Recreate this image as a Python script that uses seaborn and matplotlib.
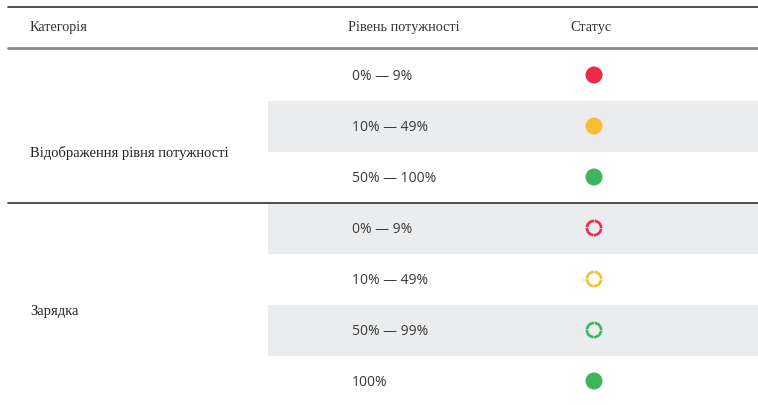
import matplotlib
matplotlib.use("Agg")
import matplotlib.pyplot as plt
import pandas as pd
import seaborn as sns

# -------------------------------
# Data
# -------------------------------
headers = ["Категорія", "Рівень потужності", "Статус"]
categories = ["Відображення рівня потужності", "Зарядка"]
group_sizes = [3, 4]
levels = ["0% — 9%", "10% — 49%", "50% — 100%",
          "0% — 9%", "10% — 49%", "50% — 99%", "100%"]
status_color = ["red", "yellow", "green", "red", "yellow", "green", "green"]
status_kind = ["fill", "fill", "fill", "ring", "ring", "ring", "fill"]

palette = {"red": "#EC2B48", "yellow": "#F6BD35", "green": "#3EB55D"}

# -------------------------------
# Layout (pixels)
# -------------------------------
W, H = 758, 405
top = 49.5
row_h = 51
x_cat, x_lvl, x_status = 30, 352, 594

df = pd.DataFrame({"level": levels, "color": status_color, "kind": status_kind})
df["row"] = range(len(df))
df["y"] = top + (df["row"] + 0.5) * row_h
df["x"] = x_status

sns.set_theme(style="white")
plt.rcParams["font.family"] = ["Open Sans", "DejaVu Sans"]

fig = plt.figure(figsize=(W / 100, H / 100), dpi=100)
ax = fig.add_axes([0, 0, 1, 1])

# zebra bands
for r in df["row"]:
    if r % 2 == 1:
        ax.axhspan(top + r * row_h, top + (r + 1) * row_h,
                   xmin=268 / W, xmax=1, color="#EBECEE", lw=0, zorder=0)

# rules
ax.plot([8, W], [7, 7], color="#333333", lw=1.2)
ax.plot([8, W], [48, 48], color="#8A8A8A", lw=2.0)
ax.plot([8, W], [top + group_sizes[0] * row_h] * 2, color="#333333", lw=1.2)

serif = ["Liberation Serif", "DejaVu Serif"]
ax.text(x_cat, 28, headers[0], family=serif, fontsize=10.3, color="#333333", va="center")
ax.text(348, 28, headers[1], family=serif, fontsize=10.3, color="#333333", va="center")
ax.text(570, 28, headers[2], family=serif, fontsize=10.3, color="#333333", va="center")

# category labels
ax.text(x_cat, 153, categories[0], family=serif, fontsize=10.5, color="#222222", va="center")
ax.text(x_cat, 311, categories[1], family=serif, fontsize=10.5, color="#222222", va="center")

for _, r in df.iterrows():
    ax.text(x_lvl, r["y"] + 1.5, r["level"], fontsize=10, color="#3a3a3a", va="center")

fill = df[df["kind"] == "fill"]
ring = df[df["kind"] == "ring"]
sns.scatterplot(data=fill, x="x", y="y", hue="color", palette=palette,
                s=150, linewidth=0, legend=False, ax=ax, zorder=3)
for _, r in ring.iterrows():
    ax.scatter(r["x"], r["y"], s=105, facecolors="none",
               edgecolors=palette[r["color"]], linewidths=1.9,
               linestyles=(0, (4.0, 0.25)), zorder=3)

ax.set_xlim(0, W)
ax.set_ylim(H, 0)
ax.axis("off")
fig.savefig("out.png", dpi=100)
